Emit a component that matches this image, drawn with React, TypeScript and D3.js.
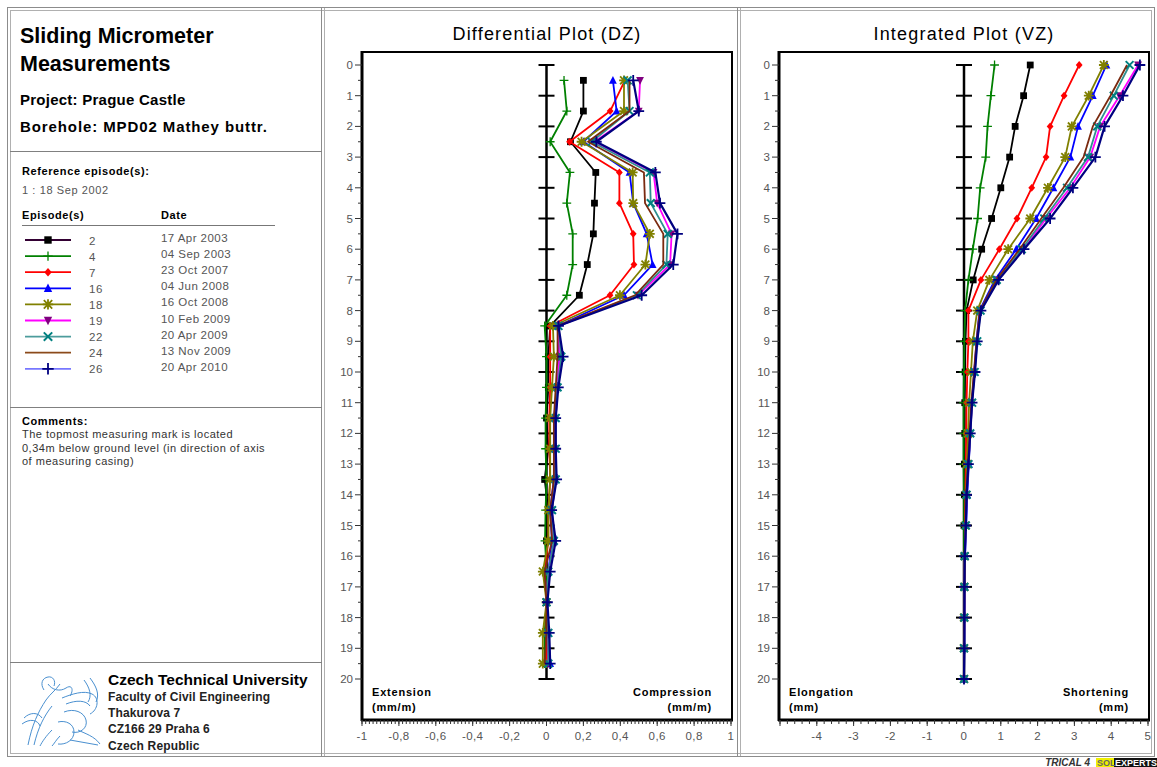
import { useEffect, useRef } from "react";
import * as d3 from "d3";

// depths (m) of the differential values (between marks) and of the integrated values (at marks)
const depthsDZ = [0.5, 1.5, 2.5, 3.5, 4.5, 5.5, 6.5, 7.5, 8.5, 9.5, 10.5, 11.5, 12.5, 13.5, 14.5, 15.5, 16.5, 17.5, 18.5, 19.5];
const depthsVZ = [0, 1, 2, 3, 4, 5, 6, 7, 8, 9, 10, 11, 12, 13, 14, 15, 16, 17, 18, 19, 20];

// episodes shown in the legend
const episodes = ["2", "4", "7", "16", "18", "19", "22", "24", "26"];
const dates = ["17 Apr 2003", "04 Sep 2003", "23 Oct 2007", "04 Jun 2008", "16 Oct 2008", "10 Feb 2009", "20 Apr 2009", "13 Nov 2009", "20 Apr 2010"];
const colors = ["#000000", "#008000", "#ff0000", "#0000ff", "#808000", "#ff00ff", "#2f8f8f", "#7a2a10", "#000080"];
const markerColors = ["#000000", "#008000", "#ff0000", "#0000ff", "#808000", "#800080", "#008080", "#7a2a10", "#000080"];
const legendLineColors = ["#330033", "#008000", "#ff0000", "#0000ff", "#808000", "#ff00ff", "#4c9c9c", "#8b4a1a", "#7777ff"];
const markers = ["square", "plus", "diamond", "triangleUp", "asterisk", "triangleDown", "x", "none", "plusBold"];

// differential strain DZ (mm/m)
const dzEp2 = [0.2, 0.2, 0.13, 0.267, 0.26, 0.254, 0.221, 0.178, 0.02, 0.01, 0.01, 0.0, 0.01, -0.01, 0.01, 0, 0, 0, 0, 0];
const dzEp4 = [0.095, 0.11, 0.02, 0.127, 0.11, 0.142, 0.142, 0.11, -0.01, 0.0, 0, -0.005, -0.005, 0, -0.005, -0.008, 0, 0, -0.01, -0.01];
const dzEp7 = [0.425, 0.345, 0.125, 0.395, 0.395, 0.47, 0.474, 0.344, 0.02, 0.02, 0.02, 0.015, 0.015, 0.02, 0.01, 0.01, -0.01, 0, 0, 0];
const dzEp16 = [0.36, 0.38, 0.2, 0.45, 0.47, 0.543, 0.575, 0.42, 0.06, 0.07, 0.06, 0.04, 0.04, 0.04, 0.02, 0.03, 0.01, 0, 0.01, 0.02];
const dzEp18 = [0.42, 0.42, 0.19, 0.467, 0.47, 0.56, 0.536, 0.398, 0.035, 0.04, 0.03, 0.02, 0.02, 0.02, 0.01, 0.01, -0.02, 0, -0.02, -0.02];
const dzEp19 = [0.507, 0.5, 0.26, 0.58, 0.6, 0.678, 0.67, 0.496, 0.065, 0.07, 0.06, 0.05, 0.05, 0.05, 0.03, 0.04, 0.01, 0, 0.01, 0.01];
const dzEp22 = [0.44, 0.45, 0.245, 0.56, 0.565, 0.657, 0.65, 0.49, 0.065, 0.08, 0.06, 0.05, 0.05, 0.05, 0.03, 0.04, 0.01, 0, 0.01, 0.01];
const dzEp24 = [0.45, 0.45, 0.225, 0.528, 0.534, 0.633, 0.633, 0.48, 0.06, 0.06, 0.05, 0.04, 0.04, 0.04, 0.02, 0.03, -0.01, 0, 0, -0.01];
const dzEp26 = [0.47, 0.5, 0.27, 0.59, 0.615, 0.71, 0.687, 0.516, 0.065, 0.09, 0.064, 0.05, 0.05, 0.055, 0.028, 0.05, 0.02, 0.005, 0.015, 0.02];

// integrated displacement VZ (mm)
const vzEp2 = [1.8, 1.62, 1.39, 1.24, 1.0, 0.75, 0.48, 0.25, 0.07, 0.04, 0.03, 0.02, 0.02, 0.01, 0.01, 0, 0, 0, 0, 0, 0];
const vzEp4 = [0.83, 0.73, 0.64, 0.59, 0.44, 0.37, 0.24, 0.12, 0.03, 0.01, 0, -0.01, -0.01, -0.01, 0, 0, 0, 0, 0, 0, 0];
const vzEp7 = [3.13, 2.72, 2.34, 2.23, 1.84, 1.44, 0.96, 0.46, 0.12, 0.12, 0.09, 0.07, 0.06, 0.05, 0.04, 0.03, 0.02, 0.01, 0.01, 0, 0];
const vzEp16 = [3.87, 3.5, 3.1, 2.89, 2.43, 1.96, 1.42, 0.84, 0.42, 0.34, 0.28, 0.21, 0.17, 0.13, 0.09, 0.06, 0.03, 0.02, 0.01, 0.01, 0];
const vzEp18 = [3.8, 3.39, 2.93, 2.75, 2.28, 1.8, 1.2, 0.69, 0.36, 0.24, 0.19, 0.14, 0.11, 0.08, 0.06, 0.04, 0.02, 0.01, 0, 0, 0];
const vzEp19 = [4.73, 4.23, 3.7, 3.43, 2.89, 2.23, 1.62, 0.92, 0.44, 0.35, 0.28, 0.22, 0.17, 0.12, 0.07, 0.05, 0.02, 0.01, 0.01, 0, 0];
const vzEp22 = [4.5, 4.07, 3.62, 3.37, 2.8, 2.18, 1.57, 0.89, 0.45, 0.36, 0.29, 0.22, 0.17, 0.12, 0.07, 0.05, 0.02, 0.01, 0.01, 0, 0];
const vzEp24 = [4.43, 3.98, 3.5, 3.25, 2.7, 2.1, 1.51, 0.88, 0.43, 0.34, 0.27, 0.2, 0.15, 0.11, 0.07, 0.04, 0.02, 0.01, 0, 0, 0];
const vzEp26 = [4.78, 4.32, 3.82, 3.57, 2.96, 2.34, 1.63, 0.94, 0.46, 0.36, 0.3, 0.22, 0.17, 0.12, 0.07, 0.05, 0.02, 0.01, 0.01, 0.01, 0];

const dzSeries = [dzEp2, dzEp4, dzEp7, dzEp16, dzEp18, dzEp19, dzEp22, dzEp24, dzEp26];
const vzSeries = [vzEp2, vzEp4, vzEp7, vzEp16, vzEp18, vzEp19, vzEp22, vzEp24, vzEp26];

const commentLines = [
  "The topmost measuring mark is located",
  "0,34m below ground level (in direction of axis",
  "of measuring casing)",
];
const addressLines = ["Faculty of Civil Engineering", "Thakurova 7", "CZ166 29 Praha 6", "Czech Republic"];

const FONT = "'Liberation Sans', Arial, sans-serif";
const W = 1157;
const H = 767;

const drawMarker = (g, type, color, size) => {
  const s = size;
  if (type === "none") return;
  if (type === "square") {
    g.append("rect").attr("x", -s).attr("y", -s).attr("width", 2 * s).attr("height", 2 * s).attr("fill", color);
  } else if (type === "diamond") {
    g.append("path").attr("d", `M0,${-s - 0.5}L${s},0L0,${s + 0.5}L${-s},0Z`).attr("fill", color);
  } else if (type === "triangleUp") {
    g.append("path").attr("d", `M0,${-s - 1}L${s + 0.5},${s}L${-s - 0.5},${s}Z`).attr("fill", color);
  } else if (type === "triangleDown") {
    g.append("path").attr("d", `M0,${s + 1}L${s + 0.5},${-s}L${-s - 0.5},${-s}Z`).attr("fill", color);
  } else if (type === "plus" || type === "plusBold") {
    const r = type === "plus" ? s + 1 : s + 2;
    g.append("path")
      .attr("d", `M${-r},0H${r}M0,${-r}V${r}`)
      .attr("stroke", color)
      .attr("stroke-width", type === "plus" ? 1.3 : 1.8);
  } else if (type === "x") {
    const r = s + 0.5;
    g.append("path").attr("d", `M${-r},${-r}L${r},${r}M${-r},${r}L${r},${-r}`).attr("stroke", color).attr("stroke-width", 2);
  } else if (type === "asterisk") {
    const r = s + 0.5;
    g.append("path")
      .attr("d", `M${-r},${-r}L${r},${r}M${-r},${r}L${r},${-r}M0,${-r - 1}V${r + 1}M${-r - 1},0H${r + 1}`)
      .attr("stroke", color)
      .attr("stroke-width", 1.8);
  }
};

const App = () => {
  const svgRef = useRef(null);

  useEffect(() => {
    const svg = d3.select(svgRef.current);
    svg.selectAll("*").remove();

    svg.append("rect").attr("width", W).attr("height", H).attr("fill", "#ffffff");

    // ---------- frames ----------
    const frame = svg.append("g").attr("fill", "none").attr("stroke", "#8c8c8c");
    frame.append("rect").attr("x", 7.5).attr("y", 7.5).attr("width", 1147).attr("height", 749);
    frame.append("rect").attr("x", 10.5).attr("y", 10.5).attr("width", 1141).attr("height", 743).attr("stroke", "#b0b0b0");
    [321.5, 324.5, 737.5, 740.5].forEach((x, i) => {
      frame.append("line").attr("x1", x).attr("x2", x).attr("y1", 8).attr("y2", 756)
        .attr("stroke", i % 2 ? "#b0b0b0" : "#8c8c8c");
    });
    [151.5, 407.5, 662.5].forEach((y) => {
      frame.append("line").attr("x1", 10).attr("x2", 322).attr("y1", y).attr("y2", y).attr("stroke", "#808080");
    });

    // ---------- left info panel ----------
    const info = svg.append("g").attr("font-family", FONT);
    info.append("text").attr("x", 20).attr("y", 43).attr("font-size", 21.5).attr("font-weight", "bold").text("Sliding Micrometer");
    info.append("text").attr("x", 20).attr("y", 71).attr("font-size", 21.5).attr("font-weight", "bold").text("Measurements");
    info.append("text").attr("x", 20).attr("y", 105).attr("font-size", 15).attr("font-weight", "bold")
      .attr("letter-spacing", 0.25).text("Project: Prague Castle");
    info.append("text").attr("x", 20).attr("y", 132).attr("font-size", 15).attr("font-weight", "bold")
      .attr("letter-spacing", 0.9).text("Borehole: MPD02 Mathey buttr.");

    const small = { "font-size": 11, "letter-spacing": 0.6 };
    const txt = (g, x, yy, t, extra = {}) => {
      const el = g.append("text").attr("x", x).attr("y", yy).text(t);
      Object.entries({ ...small, ...extra }).forEach(([k, v]) => el.attr(k, v));
      return el;
    };

    txt(info, 22, 175, "Reference episode(s):", { "font-weight": "bold" });
    txt(info, 22, 194, "1  :  18 Sep 2002", { fill: "#555" });

    txt(info, 22, 219, "Episode(s)", { "font-weight": "bold" });
    txt(info, 161, 219, "Date", { "font-weight": "bold" });
    info.append("line").attr("x1", 22).attr("x2", 275).attr("y1", 225.5).attr("y2", 225.5).attr("stroke", "#777");

    const legendY = d3.scaleLinear().domain([0, 1]).range([240, 256.1]);
    episodes.forEach((ep, i) => {
      const y = legendY(i);
      const row = info.append("g");
      row.append("line").attr("x1", 25).attr("x2", 71).attr("y1", y).attr("y2", y)
        .attr("stroke", legendLineColors[i]).attr("stroke-width", 1.8);
      drawMarker(row.append("g").attr("transform", `translate(48,${y})`), markers[i], markerColors[i], 3.7);
      txt(row, 89, y + 4.5, ep, { fill: "#555", "font-size": 11.5 });
      txt(row, 161, y + 2, dates[i], { fill: "#555", "font-size": 11.5, "letter-spacing": 0.45 });
    });

    txt(info, 22, 425, "Comments:", { "font-weight": "bold" });
    commentLines.forEach((t, i) => {
      txt(info, 22, 438 + i * 13.5, t, { fill: "#333", "letter-spacing": 0.5 });
    });

    // logo (stylised lion outline)
    const logo = svg.append("g").attr("fill", "none").attr("stroke", "#4a90d0").attr("stroke-width", 1);
    const lionPaths = [
      "M28,745 C32,725 38,712 46,700 C50,694 56,690 60,684",
      "M34,745 C38,728 44,716 52,706",
      "M24,718 C30,712 38,712 42,718 M22,724 C30,718 38,720 40,726",
      "M44,690 C40,684 42,678 48,677 C53,676 56,681 54,686",
      "M48,684 C52,690 60,692 66,688 C72,684 74,690 70,696",
      "M62,698 C72,694 84,690 92,694 C100,698 98,710 90,714",
      "M66,704 C76,700 86,700 90,706",
      "M64,712 C74,708 84,712 86,720 C88,728 80,734 72,732",
      "M58,722 C66,720 74,724 74,732 C74,740 66,745 58,744",
      "M70,740 L98,745 M78,730 C86,734 94,736 100,744",
      "M90,678 C96,686 100,694 96,702 M84,680 C90,688 92,696 88,702",
      "M52,730 C46,736 42,742 40,746 M60,736 C56,740 54,744 52,746",
    ];
    lionPaths.forEach((p) => logo.append("path").attr("d", p));

    info.append("text").attr("x", 108).attr("y", 685).attr("font-size", 15.5).attr("font-weight", "bold").text("Czech Technical University");
    addressLines.forEach((t, i) => {
      info.append("text").attr("x", 108).attr("y", 701 + i * 16.2).attr("font-size", 12).attr("font-weight", "bold")
        .attr("letter-spacing", 0.15).attr("fill", "#222").text(t);
    });

    // ---------- plots ----------
    const y = d3.scaleLinear().domain([0, 20]).range([65, 679]);
    const depthTicks = d3.range(0, 21, 1);
    const depthMinor = d3.range(0.5, 20, 1);

    const drawPlot = (opts) => {
      const { x, left, right, title, majorTicks, minorTicks, fmt, series, depths, leftLabel, rightLabel, unit, markerSize } = opts;
      const top = 52;
      const bottom = 720;
      const g = svg.append("g").attr("font-family", FONT);

      g.append("text").attr("x", (left + right) / 2).attr("y", 40).attr("text-anchor", "middle")
        .attr("font-size", 18).attr("letter-spacing", 1.2).text(title);

      g.append("rect").attr("x", left).attr("y", top).attr("width", right - left).attr("height", bottom - top)
        .attr("fill", "none").attr("stroke", "#000").attr("stroke-width", 2);
      g.append("line").attr("x1", left).attr("x2", left).attr("y1", top - 1).attr("y2", bottom + 1)
        .attr("stroke", "#000").attr("stroke-width", 3);
      g.append("line").attr("x1", left - 1).attr("x2", right + 1).attr("y1", bottom).attr("y2", bottom)
        .attr("stroke", "#000").attr("stroke-width", 3);

      // depth axis
      depthTicks.forEach((d) => {
        g.append("line").attr("x1", left - 7).attr("x2", left).attr("y1", y(d)).attr("y2", y(d)).attr("stroke", "#333");
        g.append("text").attr("x", left - 9).attr("y", y(d)).attr("dy", "0.35em").attr("text-anchor", "end")
          .attr("font-size", 11.5).attr("fill", "#555").text(d);
      });
      depthMinor.forEach((d) => {
        g.append("line").attr("x1", left - 4).attr("x2", left).attr("y1", y(d)).attr("y2", y(d)).attr("stroke", "#333");
      });

      // value axis
      minorTicks.forEach((v) => {
        g.append("line").attr("x1", x(v)).attr("x2", x(v)).attr("y1", bottom).attr("y2", bottom + 4).attr("stroke", "#333");
      });
      majorTicks.forEach((v) => {
        g.append("line").attr("x1", x(v)).attr("x2", x(v)).attr("y1", bottom).attr("y2", bottom + 6).attr("stroke", "#333");
        const label = fmt(v);
        if (label !== null) {
          g.append("text").attr("x", x(v)).attr("y", 740).attr("text-anchor", "middle").attr("font-size", 11.5)
            .attr("letter-spacing", 0.4).attr("fill", "#555").text(label);
        }
      });

      // corner labels
      const lab = (xx, yy, t, anchor) =>
        g.append("text").attr("x", xx).attr("y", yy).attr("text-anchor", anchor).attr("font-size", 11)
          .attr("font-weight", "bold").attr("letter-spacing", 0.8).text(t);
      lab(left + 10, 696, leftLabel, "start");
      lab(left + 10, 711, unit, "start");
      lab(right - 20, 696, rightLabel, "end");
      lab(right - 20, 711, unit, "end");

      // central borehole axis
      g.append("line").attr("x1", x(0)).attr("x2", x(0)).attr("y1", y(0)).attr("y2", y(20)).attr("stroke", "#000").attr("stroke-width", 2.5);
      depthTicks.forEach((d) => {
        g.append("line").attr("x1", x(0) - 8).attr("x2", x(0) + 8).attr("y1", y(d)).attr("y2", y(d))
          .attr("stroke", "#000").attr("stroke-width", 2);
      });

      // series
      const line = d3.line().x((d) => x(d[0])).y((d) => y(d[1]));
      series.forEach((vals, i) => {
        const pts = vals.map((v, k) => [v, depths[k]]);
        g.append("path").attr("d", line(pts)).attr("fill", "none").attr("stroke", colors[i])
          .attr("stroke-width", i === 8 ? 2.2 : 1.8).attr("stroke-linejoin", "round");
        pts.forEach((p) => {
          drawMarker(g.append("g").attr("transform", `translate(${x(p[0])},${y(p[1])})`), markers[i], markerColors[i], markerSize);
        });
      });
    };

    const xDiff = d3.scaleLinear().domain([-1, 1]).range([362, 731]);
    drawPlot({
      x: xDiff,
      left: 362,
      right: 732,
      title: "Differential Plot (DZ)",
      majorTicks: d3.range(-10, 11, 2).map((v) => v / 10),
      minorTicks: d3.range(-50, 51, 1).map((v) => v / 50),
      fmt: (v) => d3.format("~g")(Math.round(v * 10) / 10).replace(".", ",").replace("−", "-"),
      series: dzSeries,
      depths: depthsDZ,
      leftLabel: "Extension",
      rightLabel: "Compression",
      unit: "(mm/m)",
      markerSize: 3.4,
    });

    const xInt = d3.scaleLinear().domain([-5, 5]).range([780, 1148]);
    drawPlot({
      x: xInt,
      left: 779,
      right: 1149,
      title: "Integrated Plot (VZ)",
      majorTicks: d3.range(-5, 6, 1),
      minorTicks: d3.range(-25, 26, 1).map((v) => v / 5),
      fmt: (v) => (v === -5 ? null : String(v)),
      series: vzSeries,
      depths: depthsVZ,
      leftLabel: "Elongation",
      rightLabel: "Shortening",
      unit: "(mm)",
      markerSize: 3.4,
    });

    // footer brand
    const foot = svg.append("g").attr("font-family", FONT);
    foot.append("text").attr("x", 1090).attr("y", 766).attr("text-anchor", "end").attr("font-size", 10)
      .attr("font-style", "italic").attr("font-weight", "bold").attr("fill", "#333").text("TRICAL 4");
    foot.append("rect").attr("x", 1096).attr("y", 758).attr("width", 18).attr("height", 9).attr("fill", "#f0f000");
    foot.append("rect").attr("x", 1114).attr("y", 758).attr("width", 43).attr("height", 9).attr("fill", "#111");
    foot.append("text").attr("x", 1097).attr("y", 766).attr("font-size", 9).attr("font-weight", "bold").attr("fill", "#666").text("SOL");
    foot.append("text").attr("x", 1115).attr("y", 766).attr("font-size", 9).attr("font-weight", "bold").attr("fill", "#fff").text("EXPERTS");
  }, []);

  return (
    <svg
      ref={svgRef}
      width={W}
      height={H}
      style={{ position: "absolute", left: 0, top: 0, display: "block" }}
    ></svg>
  );
};

export default App;
